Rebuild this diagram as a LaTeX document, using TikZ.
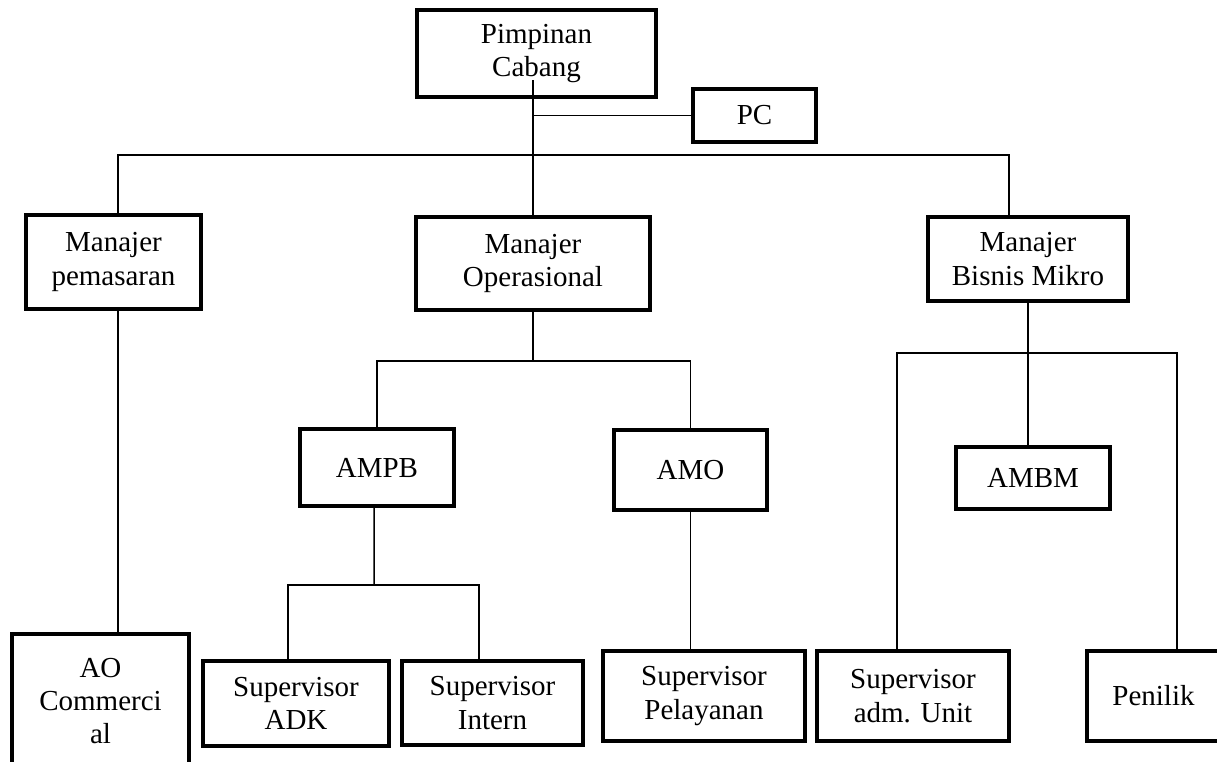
\documentclass[tikz,border=0pt]{standalone}
\usepackage{fontspec}
\setmainfont{Liberation Serif}
\usepackage{tikz}

\begin{document}
\begin{tikzpicture}[x=0.02cm,y=-0.02cm,
    kotak/.style={draw,line width=2.5pt,align=center,inner sep=0pt,
      font=\fontsize{16.5}{19}\selectfont},
    garis/.style={line width=0.85pt}]
        \useasboundingbox (0,0) rectangle (1217,761);
        \clip (0,0) rectangle (1217,761);
        % pimpinan
        \node[kotak,minimum width=4.77cm,minimum height=1.73cm] (pimpinan) at (536.5,53.5) {Pimpinan\\Cabang};
        \node[kotak,minimum width=2.45cm,minimum height=1.05cm] (pc) at (754.5,115.5) {PC};
        % manajer
        \node[kotak,minimum width=3.49cm,minimum height=1.87cm] (mpemasaran) at (113.5,262) {Manajer\\pemasaran};
        \node[kotak,minimum width=4.67cm,minimum height=1.85cm] (moperasional) at (533,263.5) {Manajer\\Operasional};
        \node[kotak,minimum width=3.99cm,minimum height=1.67cm] (mbisnis) at (1028,259) {Manajer\\Bisnis Mikro};
        % asisten manajer
        \node[kotak,minimum width=3.07cm,minimum height=1.53cm] (ampb) at (377,467.5) {AMPB};
        \node[kotak,minimum width=3.05cm,minimum height=1.59cm] (amo) at (690.5,470) {AMO};
        \node[kotak,minimum width=3.07cm,minimum height=1.23cm] (ambm) at (1033,478) {AMBM};
        % supervisor
        \node[kotak,minimum width=3.53cm,minimum height=2.67cm] (ao) at (100.5,701) {AO\\Commerci\\al};
        \node[kotak,minimum width=3.71cm,minimum height=1.69cm] (adk) at (296,703.5) {Supervisor\\ADK};
        \node[kotak,minimum width=3.61cm,minimum height=1.67cm] (intern) at (492.5,703) {Supervisor\\Intern};
        \node[kotak,minimum width=4.03cm,minimum height=1.79cm] (pelayanan) at (704,696) {Supervisor\\Pelayanan};
        \node[kotak,minimum width=3.83cm,minimum height=1.79cm] (admunit) at (913,696) {Supervisor\\adm. Unit};
        \node[kotak,minimum width=2.65cm,minimum height=1.79cm] (penilik) at (1153.5,696) {Penilik};
        % garis
        \coordinate (cabang) at (533,80);
        \coordinate (busatas) at (533,155);
        \coordinate (busops) at (533,361);
        \coordinate (busampb) at (374,585);
        \coordinate (busmikro) at (1029,353);
        \draw[garis] (cabang) -- (moperasional.north);
        \draw[garis] (pc.west) -- (pc.west -| cabang);
        \draw[garis] ([xshift=0.09cm]mpemasaran.north) |- (busatas) -| ([xshift=-0.38cm]mbisnis.north);
        \draw[garis] ([xshift=0.09cm]mpemasaran.south) -- ([xshift=0.09cm]mpemasaran.south |- ao.north);
        \draw[garis] (moperasional.south) -- (busops);
        \draw[garis] (ampb.north) |- (busops) -| (amo.north);
        \draw[garis] ([xshift=-0.06cm]ampb.south) -- (busampb);
        \draw[garis] ([xshift=-0.16cm]adk.north) |- (busampb) -| ([xshift=-0.27cm]intern.north);
        \draw[garis] (amo.south) -- (amo.south |- pelayanan.north);
        \draw[garis] (mbisnis.south) -- (mbisnis.south |- ambm.north);
        \draw[garis] ([xshift=-0.32cm]admunit.north) |- (busmikro) -| ([xshift=0.47cm]penilik.north);
      \end{tikzpicture}
\end{document}
